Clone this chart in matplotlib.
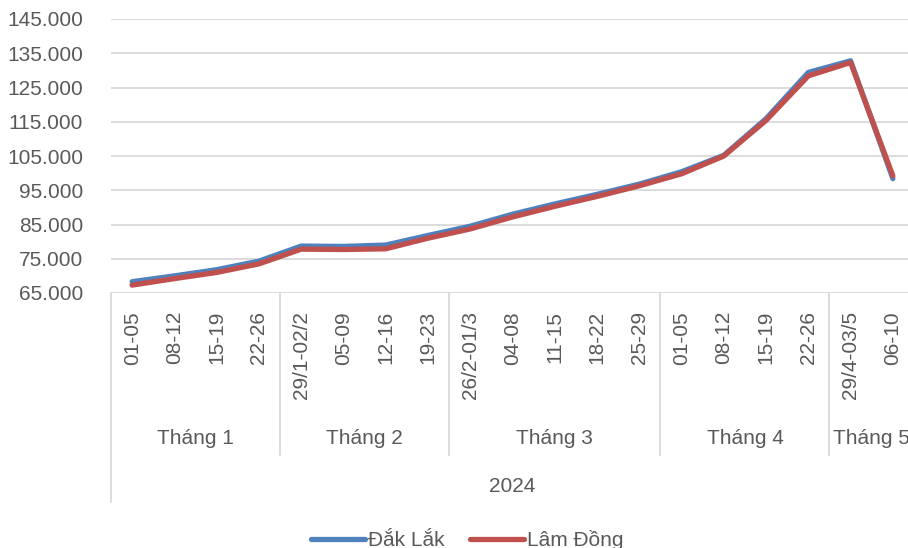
"""Weekly price lines for Đắk Lắk and Lâm Đồng, 2024 (Excel-style multi-level axis)."""

import matplotlib
matplotlib.use("Agg")
import matplotlib.pyplot as plt
from matplotlib.ticker import FuncFormatter

FONT = ["Liberation Sans", "DejaVu Sans"]
plt.rcParams["font.family"] = FONT

# Data.
weeks = ["01-05", "08-12", "15-19", "22-26",
         "29/1-02/2", "05-09", "12-16", "19-23",
         "26/2-01/3", "04-08", "11-15", "18-22", "25-29",
         "01-05", "08-12", "15-19", "22-26",
         "29/4-03/5", "06-10"]
months = ["Tháng 1", "Tháng 2", "Tháng 3", "Tháng 4", "Tháng 5"]
month_sizes = [4, 4, 5, 4, 2]
year = "2024"

dak_lak = [68300, 70000, 71800, 74300, 78700, 78600, 79000, 81800, 84500, 88000,
           91000, 93800, 96800, 100400, 105200, 115900, 129400, 132800, 98400]
lam_dong = [67300, 69200, 71000, 73500, 77800, 77700, 77900, 81000, 83700, 87200,
            90300, 93200, 96300, 99800, 105000, 115400, 128400, 132300, 99200]

yticks = list(range(65000, 145001, 10000))

BLUE = "#4f81bd"
RED = "#c0504d"
GRID = "#d9d9d9"
TEXT = "#595959"
FS = 15

W, H = 908, 548
fig = plt.figure(figsize=(W / 100, H / 100), dpi=100)
# plot area in pixels: x 111..914 (runs past the right edge), y 19..293
ax = fig.add_axes([111 / W, 1 - 293 / H, (914 - 111) / W, (293 - 19) / H])

x = list(range(len(weeks)))
ax.plot(x, dak_lak, color=BLUE, lw=3.8, solid_capstyle="round", label="Đắk Lắk")
ax.plot(x, lam_dong, color=RED, lw=3.8, solid_capstyle="round", label="Lâm Đồng")

ax.set_xlim(-0.5, len(weeks) - 0.5)
ax.set_ylim(yticks[0], yticks[-1])
ax.set_yticks(yticks)
ax.yaxis.set_major_formatter(FuncFormatter(lambda v, _: f"{v:,.0f}".replace(",", ".")))
ax.grid(axis="y", color=GRID, lw=1.3)
ax.set_axisbelow(True)
for s in ax.spines.values():
    s.set_visible(False)
ax.tick_params(axis="y", length=0, pad=20, labelsize=FS, labelcolor=TEXT)

ax.set_xticks(x)
ax.set_xticklabels(weeks, rotation=90, va="top", ha="center")
ax.tick_params(axis="x", length=0, pad=13, labelsize=FS, labelcolor=TEXT)

# multi-level category axis: separators, month and year labels
tr = ax.get_xaxis_transform()
ax_h = 293 - 19
edges = [-0.5]
for n in month_sizes:
    edges.append(edges[-1] + n)
for i, e in enumerate(edges):
    bottom = -(502 - 293) / ax_h if i == 0 else -(455 - 293) / ax_h
    ax.plot([e, e], [0, bottom], transform=tr, color=GRID, lw=1.3, clip_on=False)
for m, lo, hi in zip(months, edges[:-1], edges[1:]):
    ax.text((lo + hi) / 2, -(438 - 293) / ax_h, m, transform=tr, ha="center",
            va="center", fontsize=FS, color=TEXT)
ax.text((edges[0] + edges[-1]) / 2, -(487 - 293) / ax_h, year, transform=tr,
        ha="center", va="center", fontsize=FS, color=TEXT)

fig.legend(loc="center", bbox_to_anchor=(467 / W, 1 - 540 / H), ncol=2,
           frameon=False, fontsize=FS, handlelength=2.6, handletextpad=0.15,
           columnspacing=1.2, labelcolor=TEXT)

fig.savefig("out.png", dpi=100)
